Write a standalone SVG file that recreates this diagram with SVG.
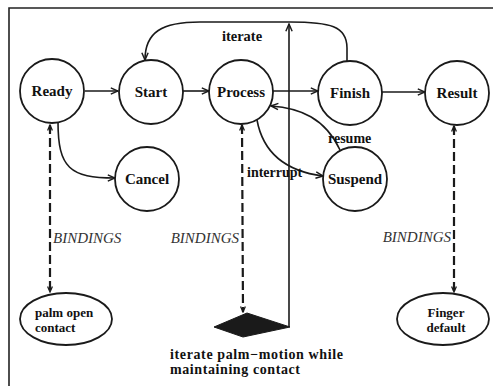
<svg xmlns="http://www.w3.org/2000/svg" width="493" height="386" viewBox="0 0 493 386">
<defs>
<style>
.n{fill:#fff;stroke:#1a1a1a;stroke-width:1.8}
.t{font-family:"Liberation Serif",serif;font-weight:bold;font-size:15px;fill:#111;text-anchor:middle}
.s{font-family:"Liberation Serif",serif;font-weight:bold;font-size:13px;fill:#111}
.l{font-family:"Liberation Serif",serif;font-weight:bold;font-size:14px;fill:#111}
.b{font-family:"Liberation Serif",serif;font-style:italic;font-size:15px;fill:#333}
.e{fill:none;stroke:#1a1a1a;stroke-width:1.6}
.d{fill:none;stroke:#1a1a1a;stroke-width:2.2;stroke-dasharray:9 4}
</style>
<marker id="a" viewBox="0 0 10 10" refX="9" refY="5" markerWidth="9" markerHeight="9" orient="auto" markerUnits="userSpaceOnUse">
<path d="M1,1.5 L9,5 L1,8.5" fill="none" stroke="#1a1a1a" stroke-width="1.6"/>
</marker>
<marker id="h" viewBox="0 0 10 10" refX="9" refY="5" markerWidth="8" markerHeight="8" orient="auto-start-reverse" markerUnits="userSpaceOnUse">
<path d="M2,2 L9,5 L2,8" fill="none" stroke="#1a1a1a" stroke-width="1.6"/>
</marker>
</defs>
<rect width="493" height="386" fill="#fff"/>
<path d="M9,386 L9,8 L493,8" fill="none" stroke="#222" stroke-width="1.6"/>

<g id="connectors">
<line class="e" x1="85" y1="91" x2="118" y2="91" marker-end="url(#a)"/>
<line class="e" x1="183" y1="91" x2="209" y2="91" marker-end="url(#a)"/>
<line class="e" x1="273" y1="91" x2="318" y2="91" marker-end="url(#a)"/>
<line class="e" x1="382" y1="92" x2="425" y2="92" marker-end="url(#a)"/>
<path class="e" d="M58,122 C58,168 70,178 115,178" marker-end="url(#a)"/>
<path class="e" d="M257,120 C264,158 292,172 323,176" marker-end="url(#a)"/>
<path class="e" d="M340,150 C325,118 300,108 271,106" marker-end="url(#a)"/>
<path class="e" d="M347,62 L347,48 C347,26 330,22 290,22 L200,22 C162,22 145,32 145,60" marker-end="url(#a)"/>
<path class="e" d="M289,327 L289,24" marker-end="url(#a)"/>
<line class="d" x1="50" y1="125" x2="50" y2="292" marker-start="url(#h)" marker-end="url(#h)"/>
<line class="d" x1="242" y1="125" x2="243" y2="312" marker-start="url(#h)" marker-end="url(#h)"/>
<line class="d" x1="454" y1="126" x2="454" y2="292" marker-start="url(#h)" marker-end="url(#h)"/>
<text class="s" x="242" y="41" text-anchor="middle" style="font-size:14.5px">iterate</text>
<text class="l" x="328" y="143">resume</text>
<text class="l" x="247" y="177">interrupt</text>
<text class="b" x="53" y="243">BINDINGS</text>
<text class="b" x="239" y="243" text-anchor="end">BINDINGS</text>
<text class="b" x="451" y="242" text-anchor="end">BINDINGS</text>
</g>

<g id="ready"><circle class="n" cx="52" cy="91" r="32"/><text class="t" x="52" y="96">Ready</text></g>
<g id="start"><circle class="n" cx="151" cy="92" r="32"/><text class="t" x="151" y="97">Start</text></g>
<g id="process"><circle class="n" cx="241" cy="92" r="32"/><text class="t" x="241" y="97">Process</text></g>
<g id="finish"><circle class="n" cx="350" cy="93" r="32"/><text class="t" x="350" y="98">Finish</text></g>
<g id="result"><circle class="n" cx="457" cy="93" r="32"/><text class="t" x="457" y="98">Result</text></g>
<g id="cancel"><circle class="n" cx="147" cy="179" r="32"/><text class="t" x="147" y="184">Cancel</text></g>
<g id="suspend"><circle class="n" cx="355" cy="179" r="32"/><text class="t" x="355" y="184">Suspend</text></g>
<g id="palm"><ellipse class="n" cx="66" cy="319" rx="46" ry="26"/><text class="s" x="35" y="317">palm open</text><text class="s" x="35" y="332">contact</text></g>
<g id="finger"><ellipse class="n" cx="443" cy="319" rx="46" ry="26"/><text class="s" x="446" y="317" text-anchor="middle">Finger</text><text class="s" x="446" y="332" text-anchor="middle">default</text></g>
<g id="palm-motion"><polygon points="247,313 290,327 243,337 214,327" fill="#1a1a1a" stroke="#1a1a1a" stroke-width="1"/><text class="s" x="170" y="359" style="font-size:14px" textLength="173" lengthAdjust="spacing">iterate palm−motion while</text><text class="s" x="170" y="374" style="font-size:14px" textLength="130" lengthAdjust="spacing">maintaining contact</text></g>
</svg>
